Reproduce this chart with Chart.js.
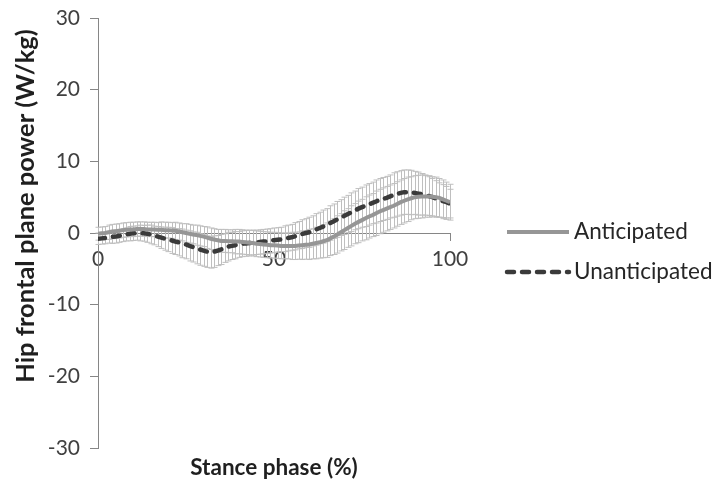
<!DOCTYPE html>
<html>
<head>
<meta charset="utf-8">
<title>Hip frontal plane power</title>
<script src="https://cdn.jsdelivr.net/npm/chart.js@4/dist/chart.umd.min.js"></script>
<style>
  html, body { margin: 0; padding: 0; background: #fff; }
  #wrap { position: relative; width: 719px; height: 486px; }
</style>
</head>
<body>
<div id="wrap"><canvas id="powerChart"></canvas></div>
<script>
// % of stance, one sample per percent
const stance = Array.from({ length: 101 }, (_, i) => i);

const seriesNames = ['Anticipated', 'Unanticipated'];

// mean hip frontal plane power (W/kg)
const anticipated = [
  -0.1, -0.05, 0.0, 0.1, 0.2, 0.25, 0.3, 0.4, 0.45, 0.5,
  0.5, 0.55, 0.55, 0.55, 0.5, 0.5, 0.5, 0.45, 0.45, 0.4,
  0.4, 0.35, 0.3, 0.2, 0.1, 0.0, -0.1, -0.2, -0.3, -0.4,
  -0.5, -0.65, -0.8, -0.9, -1.0, -1.1, -1.1, -1.15, -1.15, -1.2,
  -1.2, -1.25, -1.3, -1.35, -1.4, -1.5, -1.55, -1.6, -1.65, -1.7,
  -1.7, -1.75, -1.8, -1.8, -1.8, -1.8, -1.8, -1.75, -1.7, -1.65,
  -1.6, -1.5, -1.4, -1.3, -1.15, -1.0, -0.75, -0.5, -0.2, 0.1,
  0.4, 0.7, 1.0, 1.3, 1.55, 1.8, 2.05, 2.3, 2.5, 2.75,
  3.0, 3.2, 3.4, 3.6, 3.8, 4.05, 4.3, 4.5, 4.7, 4.85,
  5.0, 5.05, 5.1, 5.1, 5.1, 5.05, 5.0, 4.9, 4.7, 4.5,
  4.3
];
const unanticipated = [
  -0.8, -0.75, -0.7, -0.6, -0.55, -0.5, -0.4, -0.3, -0.2, -0.1,
  -0.05, 0.0, 0.0, -0.05, -0.1, -0.2, -0.35, -0.5, -0.65, -0.8,
  -0.9, -1.05, -1.2, -1.3, -1.45, -1.6, -1.8, -1.95, -2.1, -2.3,
  -2.45, -2.6, -2.7, -2.6, -2.45, -2.3, -2.1, -1.9, -1.8, -1.7,
  -1.6, -1.5, -1.45, -1.4, -1.35, -1.3, -1.25, -1.2, -1.15, -1.1,
  -1.0, -0.95, -0.9, -0.8, -0.7, -0.6, -0.45, -0.3, -0.15, 0.0,
  0.1, 0.3, 0.5, 0.7, 0.9, 1.1, 1.4, 1.65, 1.9, 2.15,
  2.4, 2.65, 2.9, 3.15, 3.4, 3.6, 3.8, 4.0, 4.2, 4.4,
  4.6, 4.75, 4.9, 5.1, 5.3, 5.45, 5.6, 5.7, 5.7, 5.65,
  5.6, 5.5, 5.4, 5.3, 5.15, 5.0, 4.8, 4.6, 4.45, 4.3,
  4.1
];

// standard deviations
const anticipatedSd = [
  0.9, 0.9, 0.9, 1.0, 1.0, 1.0, 1.0, 1.0, 1.0, 1.0,
  1.0, 1.0, 1.0, 1.0, 1.0, 1.0, 1.0, 1.0, 1.1, 1.1,
  1.1, 1.1, 1.2, 1.2, 1.2, 1.3, 1.3, 1.3, 1.4, 1.4,
  1.4, 1.5, 1.5, 1.5, 1.5, 1.6, 1.6, 1.6, 1.6, 1.7,
  1.7, 1.7, 1.7, 1.7, 1.8, 1.8, 1.8, 1.8, 1.8, 1.8,
  1.8, 1.8, 1.8, 1.8, 1.8, 1.9, 1.9, 1.9, 2.0, 2.0,
  2.1, 2.1, 2.2, 2.2, 2.3, 2.4, 2.4, 2.5, 2.6, 2.6,
  2.7, 2.7, 2.8, 2.8, 2.9, 2.9, 3.0, 3.0, 3.0, 3.1,
  3.1, 3.1, 3.1, 3.1, 3.1, 3.1, 3.1, 3.1, 3.1, 3.0,
  3.0, 3.0, 3.0, 2.9, 2.9, 2.8, 2.8, 2.7, 2.7, 2.6,
  2.5
];
const unanticipatedSd = [
  0.8, 0.8, 0.8, 0.8, 0.9, 0.9, 0.9, 0.9, 0.9, 1.0,
  1.0, 1.0, 1.1, 1.1, 1.2, 1.3, 1.3, 1.4, 1.5, 1.6,
  1.7, 1.8, 1.8, 1.9, 2.0, 2.0, 2.1, 2.1, 2.2, 2.2,
  2.2, 2.2, 2.2, 2.2, 2.1, 2.1, 2.0, 2.0, 1.9, 1.9,
  1.8, 1.8, 1.8, 1.8, 1.7, 1.7, 1.7, 1.7, 1.7, 1.7,
  1.7, 1.7, 1.7, 1.8, 1.8, 1.8, 1.9, 1.9, 2.0, 2.0,
  2.1, 2.1, 2.2, 2.2, 2.3, 2.3, 2.4, 2.4, 2.5, 2.5,
  2.6, 2.6, 2.7, 2.7, 2.8, 2.8, 2.9, 2.9, 2.9, 3.0,
  3.0, 3.0, 3.0, 3.0, 3.1, 3.1, 3.1, 3.1, 3.1, 3.1,
  3.0, 3.0, 2.9, 2.8, 2.7, 2.6, 2.5, 2.4, 2.3, 2.2,
  2.0
];

const yTicks = [-30, -20, -10, 0, 10, 20, 30];
const xTicks = [0, 50, 100];

const FONT = 'Lato, "Open Sans", sans-serif';
const axisGrey = '#868686';

const toPoints = (vals) => vals.map((v, i) => ({ x: stance[i], y: v }));

// vertical +/- SD whiskers with small caps, drawn under the lines
const errorBars = {
  id: 'errorBars',
  beforeDatasetsDraw(chart) {
    const { ctx, scales: { x, y } } = chart;
    ctx.save();
    ctx.strokeStyle = '#bfbfbf';
    ctx.lineWidth = 1;
    chart.data.datasets.forEach((ds) => {
      ds.sd.forEach((s, i) => {
        const px = Math.round(x.getPixelForValue(stance[i])) + 0.5;
        const top = y.getPixelForValue(ds.data[i].y + s);
        const bot = y.getPixelForValue(ds.data[i].y - s);
        ctx.beginPath();
        ctx.moveTo(px, top);
        ctx.lineTo(px, bot);
        ctx.moveTo(px - 3, top);
        ctx.lineTo(px + 3, top);
        ctx.moveTo(px - 3, bot);
        ctx.lineTo(px + 3, bot);
        ctx.stroke();
      });
    });
    ctx.restore();
  }
};

// y title and the line-sample legend on the right
const sideText = {
  id: 'sideText',
  afterDraw(chart) {
    const { ctx, chartArea: a } = chart;
    ctx.save();
    ctx.fillStyle = '#1f1f1f';
    ctx.font = 'bold 25.5px ' + FONT;
    ctx.textAlign = 'center';
    ctx.textBaseline = 'middle';
    ctx.translate(a.left - 72, (a.top + a.bottom) / 2 - 27);
    ctx.rotate(-Math.PI / 2);
    ctx.fillText('Hip frontal plane power (W/kg)', 0, 0);
    ctx.restore();

    ctx.save();
    ctx.font = '22.5px ' + FONT;
    ctx.textBaseline = 'middle';
    ctx.textAlign = 'left';
    chart.data.datasets.forEach((ds, i) => {
      const yy = (a.top + a.bottom) / 2 - 1 + i * 40;
      const x0 = a.right + 57;
      ctx.strokeStyle = ds.borderColor;
      ctx.lineWidth = ds.borderWidth;
      ctx.lineCap = ds.borderCapStyle || 'butt';
      ctx.setLineDash(ds.borderDash || []);
      ctx.beginPath();
      ctx.moveTo(x0, yy);
      ctx.lineTo(x0 + 62, yy);
      ctx.stroke();
      ctx.setLineDash([]);
      ctx.fillStyle = '#262626';
      ctx.fillText(ds.label, x0 + 67, yy);
    });
    ctx.restore();
  }
};

new Chart(document.getElementById('powerChart'), {
  type: 'line',
  data: {
    datasets: [
      {
        label: seriesNames[0],
        data: toPoints(anticipated),
        sd: anticipatedSd,
        borderColor: '#969696',
        borderWidth: 4,
        pointRadius: 0,
        tension: 0
      },
      {
        label: seriesNames[1],
        data: toPoints(unanticipated),
        sd: unanticipatedSd,
        borderColor: '#3a3a3a',
        borderWidth: 4.5,
        borderDash: [7, 8],
        borderCapStyle: 'round',
        pointRadius: 0,
        tension: 0
      }
    ]
  },
  options: {
    responsive: true,
    maintainAspectRatio: false,
    animation: false,
    layout: { padding: { left: 0, right: 269, top: 0, bottom: 0 } },
    plugins: {
      legend: { display: false },
      tooltip: { enabled: false },
      title: {
        display: true,
        position: 'bottom',
        fullSize: false,
        text: 'Stance phase (%)',
        color: '#1f1f1f',
        font: { family: FONT, size: 22.5, weight: 'bold', lineHeight: 1.2 },
        padding: { top: 6, bottom: 5 }
      }
    },
    scales: {
      x: {
        type: 'linear',
        position: { y: 0 },
        min: 0,
        max: 100,
        afterBuildTicks: (s) => { s.ticks = xTicks.map((v) => ({ value: v })); },
        ticks: { color: '#404040', font: { family: FONT, size: 21 }, padding: 7, maxRotation: 0 },
        grid: { drawOnChartArea: false, tickLength: 7, color: axisGrey },
        border: { color: axisGrey }
      },
      y: {
        type: 'linear',
        min: -30,
        max: 30,
        afterBuildTicks: (s) => { s.ticks = yTicks.map((v) => ({ value: v })); },
        afterFit: (s) => { s.width = 98; s.paddingTop = 18; },
        ticks: { color: '#404040', font: { family: FONT, size: 21 }, padding: 10 },
        grid: { drawOnChartArea: false, tickLength: 8, color: axisGrey },
        border: { color: axisGrey }
      }
    }
  },
  plugins: [errorBars, sideText]
});
</script>
</body>
</html>
